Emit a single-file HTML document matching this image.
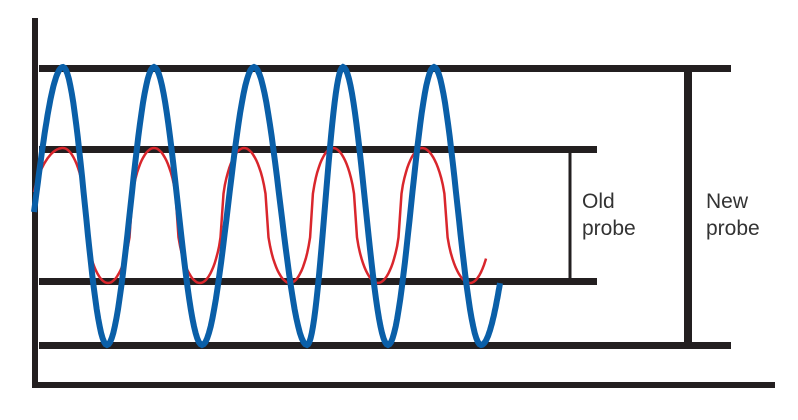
<!DOCTYPE html>
<html><head><meta charset="utf-8"><style>
html,body{margin:0;padding:0;background:#fff;width:798px;height:420px;overflow:hidden}
text{font-family:"Liberation Sans",sans-serif;font-size:21px;fill:#333}
</style></head><body>
<svg id="s" width="798" height="420" xmlns="http://www.w3.org/2000/svg">
<g fill="#231f20">
<rect x="32" y="18" width="6" height="370"/>
<rect x="35" y="382" width="740" height="6"/>
<rect x="39" y="65" width="692" height="7"/>
<rect x="39" y="146" width="558" height="7"/>
<rect x="39" y="278" width="558" height="7"/>
<rect x="39" y="342" width="692" height="7"/>
<rect x="684" y="68" width="8" height="278"/>
<rect x="568.5" y="149" width="3" height="133"/>
</g>
<text x="582" y="208">Old</text><text x="582" y="235">probe</text>
<text x="706" y="208">New</text><text x="706" y="235">probe</text>
<path id="red" fill="none" stroke="#d9262c" stroke-width="2.5"/>
<path id="blue" fill="none" stroke="#0a5fa8" stroke-width="6"/>
</svg>
<script>
function build(pts,top,bot,sharp){
  var d="",mid=(top+bot)/2,amp=(bot-top)/2;
  for(var i=0;i<pts.length-1;i++){
    var a=pts[i],b=pts[i+1];
    for(var k=0;k<=30;k++){
      var t=k/30;
      var ph=a.p+(b.p-a.p)*t;
      var c=Math.cos(ph);
      var v=sharp? Math.sign(c)*Math.pow(Math.abs(c),sharp):c;
      var x=a.x+(b.x-a.x)*t, y=mid-amp*v;
      d+=(d?"L":"M")+x.toFixed(1)+" "+y.toFixed(1);
    }
  }
  return d;
}
var P=Math.PI;
var bExt=[63,107,154,202,254,307,343,388,434,481];
var bp=[{x:34,p:-1.614}];
bExt.forEach(function(x,i){bp.push({x:x,p:i*P});});
bp.push({x:500,p:9*P+0.983});
document.getElementById("blue").setAttribute("d",build(bp,67,345,0));
var rExt=[63,108,154,200,244,290,333,378,422,470];
var rp=[{x:34,p:-1.45}];
rExt.forEach(function(x,i){rp.push({x:x,p:i*P});});
rp.push({x:486,p:9*P+1.15});
document.getElementById("red").setAttribute("d",build(rp,148,283,0.5));
</script>
</body></html>
